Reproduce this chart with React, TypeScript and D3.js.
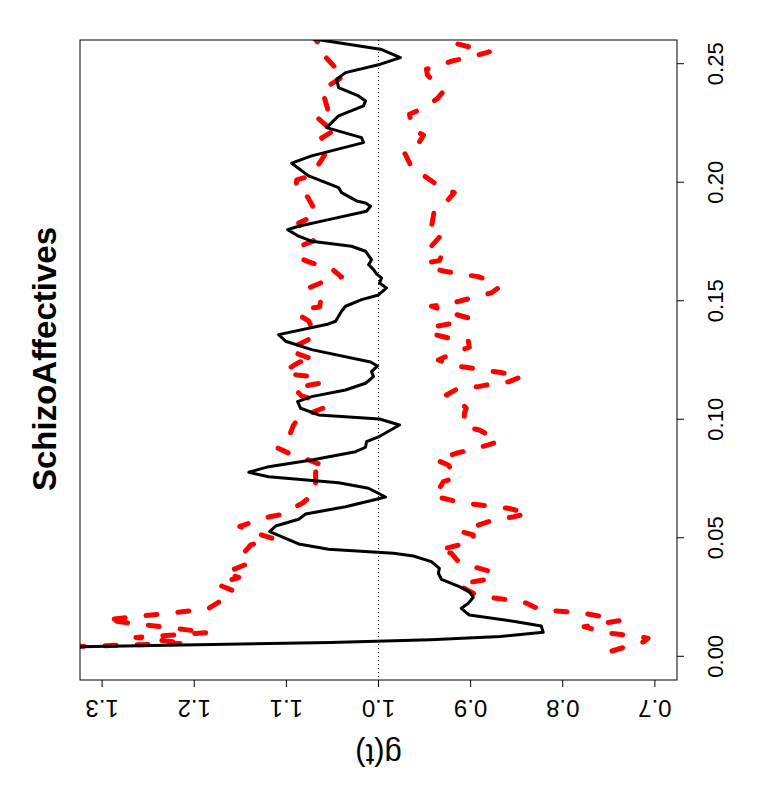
import React from "react";
import * as d3 from "d3";

// t (distance) and g(t) of the observed curve
const obsT = [0.00325,0.00578,0.00696,0.00835,0.01013,0.01278,0.0146,0.01743,0.0184,0.02025,0.02236,0.0249,0.02726,0.02937,0.03249,0.03502,0.03713,0.03992,0.04232,0.04346,0.04515,0.04738,0.05257,0.05498,0.0578,0.06004,0.06312,0.06595,0.06722,0.07089,0.07325,0.07578,0.07764,0.08,0.08283,0.08633,0.08819,0.09055,0.09253,0.0976,0.10013,0.10181,0.10464,0.10743,0.10954,0.11236,0.11519,0.11797,0.12008,0.12249,0.12418,0.12937,0.13291,0.1357,0.14021,0.14135,0.14557,0.14768,0.15046,0.15245,0.1554,0.15751,0.15962,0.16131,0.16312,0.16523,0.16734,0.17089,0.173,0.17511,0.17722,0.18,0.18143,0.18422,0.18776,0.18987,0.19127,0.19211,0.19561,0.19772,0.20266,0.20802,0.2111,0.21671,0.21882,0.22304,0.22515,0.22797,0.23219,0.2343,0.23641,0.23992,0.24346,0.24624,0.24979,0.25257,0.25612,0.26034,0.26215];
const obsG = [1.450,1.052,0.9437,0.8678,0.8212,0.8234,0.8505,0.9014,0.9047,0.9101,0.9025,0.8971,0.9014,0.9122,0.9317,0.935,0.9339,0.9426,0.9621,0.9837,1.0542,1.0867,1.1181,1.1116,1.0867,1.0791,1.0358,1.0054,0.9924,1.0108,1.0433,1.1192,1.1408,1.1192,1.0726,1.0249,1.0141,1.013,1.0,0.9772,0.9989,1.065,1.0845,1.0878,1.0726,1.0358,1.0141,1.0054,1.0076,1.0011,1.0087,1.0726,1.1008,1.1083,1.0542,1.0466,1.0401,1.0358,1.0184,1.0,0.9913,0.9989,0.9967,1.0022,1.0054,1.0108,1.0076,1.0141,1.0293,1.0726,1.0867,1.0986,1.0867,1.0542,1.013,1.0087,1.0141,1.0238,1.0401,1.0433,1.0758,1.0943,1.0726,1.0163,1.0184,1.0563,1.0509,1.0433,1.0163,1.0141,1.0217,1.0433,1.0455,1.0358,0.9978,0.9762,0.9978,1.0683,1.0953];

// lower envelope
const loT = [0.00224,0.00405,0.00616,0.0076,0.00827,0.00928,0.00996,0.01249,0.0135,0.01502,0.01646,0.01797,0.01857,0.01924,0.01983,0.02304,0.02376,0.02489,0.02586,0.03008,0.03148,0.03249,0.03527,0.03781,0.03992,0.04346,0.04485,0.04696,0.04835,0.05118,0.05257,0.05612,0.05751,0.0589,0.06034,0.06245,0.06312,0.06414,0.06481,0.06667,0.06734,0.06878,0.07367,0.07553,0.08072,0.08283,0.08565,0.08705,0.08916,0.09055,0.09156,0.09549,0.09688,0.10253,0.10464,0.10675,0.11025,0.11308,0.11376,0.11489,0.11586,0.11797,0.11983,0.12051,0.12194,0.12249,0.12502,0.12755,0.13038,0.13291,0.13316,0.13502,0.13641,0.13924,0.14021,0.14274,0.14443,0.14768,0.1481,0.14979,0.15118,0.15329,0.1554,0.15751,0.16017,0.16101,0.16245,0.16384,0.16595,0.16692,0.17089,0.173,0.17819,0.18072,0.18844,0.19127,0.19561,0.19705,0.20236,0.20477,0.21249,0.21418,0.21983,0.22236,0.22869,0.23105,0.23527,0.23781,0.23992,0.24515,0.24768,0.24835,0.25118,0.25232,0.25498,0.25612,0.25823,0.25962,0.26131];
const loG = [0.7465,0.7313,0.7118,0.7075,0.7183,0.7389,0.753,0.7768,0.7616,0.7389,0.753,0.7746,0.7887,0.8104,0.8256,0.8429,0.8581,0.8797,0.8938,0.9133,0.8971,0.8808,0.8743,0.8971,0.9133,0.9209,0.935,0.9122,0.8971,0.8971,0.9101,0.8862,0.8743,0.8527,0.8375,0.8592,0.8743,0.896,0.9101,0.9296,0.9404,0.9372,0.9296,0.9155,0.9242,0.9372,0.9155,0.9014,0.8808,0.87,0.8722,0.8906,0.9068,0.9068,0.9047,0.9101,0.9263,0.9133,0.8917,0.8776,0.8581,0.8451,0.8689,0.883,0.9047,0.9187,0.935,0.9209,0.9014,0.9025,0.9122,0.9317,0.9458,0.9372,0.9231,0.9025,0.9177,0.9426,0.9339,0.9122,0.8992,0.8776,0.87,0.8732,0.8917,0.9068,0.9285,0.9426,0.948,0.9339,0.9296,0.9426,0.9307,0.9426,0.9393,0.9274,0.9177,0.9296,0.9491,0.9621,0.9718,0.9599,0.9512,0.9632,0.9664,0.9523,0.9361,0.9307,0.9317,0.9469,0.948,0.9404,0.9198,0.9057,0.8797,0.8917,0.9133,0.9263,0.9328];

// upper envelope
const hiT = [0.00371,0.00549,0.00793,0.01004,0.01532,0.01996,0.02544,0.02755,0.03051,0.03325,0.03515,0.03958,0.04359,0.04696,0.0497,0.0516,0.05477,0.05646,0.05878,0.05983,0.06468,0.06932,0.07776,0.07987,0.08283,0.0843,0.08789,0.09127,0.0976,0.10055,0.10477,0.1073,0.10983,0.11321,0.11532,0.11785,0.11869,0.12017,0.12418,0.12502,0.12713,0.12945,0.13219,0.13515,0.14148,0.14401,0.14696,0.14738,0.14992,0.1554,0.15751,0.16004,0.16384,0.16595,0.16806,0.17312,0.17523,0.17945,0.18283,0.1862,0.18916,0.1938,0.19633,0.20097,0.20266,0.20941,0.21152,0.21236,0.21616,0.21869,0.22291,0.22376,0.22797,0.22966,0.23684,0.23852,0.23937,0.24527,0.24823,0.25371,0.2554,0.25751,0.26173];
const hiG = [1.3662,1.208,1.2633,1.1842,1.2969,1.1853,1.1625,1.1571,1.1755,1.1517,1.1668,1.1387,1.1463,1.1387,1.1148,1.13,1.1506,1.1376,1.1192,1.1051,1.0823,1.0683,1.0683,1.0563,1.0758,1.0899,1.1094,1.0986,1.0921,1.0867,1.0596,1.0628,1.0834,1.0921,1.0618,1.0672,1.0888,1.1029,1.0856,1.0693,1.0845,1.0975,1.0834,1.0683,1.0758,1.0867,1.0726,1.0639,1.0628,1.0758,1.0628,1.0401,1.052,1.0726,1.0867,1.0845,1.0704,1.0834,1.0867,1.0672,1.0704,1.0769,1.0899,1.0888,1.0737,1.0618,1.0585,1.0618,1.0563,1.0618,1.0433,1.0563,1.0683,1.0542,1.0596,1.0563,1.0596,1.0358,1.0466,1.0596,1.0574,1.0628,1.0715];

const gTicks = [1.3, 1.2, 1.1, 1.0, 0.9, 0.8, 0.7];
const tTicks = [0.0, 0.05, 0.1, 0.15, 0.2, 0.25];
const title = "SchizoAffectives";
const gLabel = "g(t)";

const FONT = "'Liberation Sans', Arial, Helvetica, sans-serif";

export default function App() {
  const left = 80, right = 677, top = 40, bottom = 680;
  const gScale = d3.scaleLinear().domain([1.324, 0.676]).range([left, right]);
  const tScale = d3.scaleLinear().domain([-0.01, 0.26]).range([bottom, top]);

  const line = d3
    .line<[number, number]>()
    .x((d) => gScale(d[1]))
    .y((d) => tScale(d[0]));

  const obs = obsT.map((t, i) => [t, obsG[i]] as [number, number]);
  const lo = loT.map((t, i) => [t, loG[i]] as [number, number]);
  const hi = hiT.map((t, i) => [t, hiG[i]] as [number, number]);

  return (
    <svg
      width={777}
      height={800}
      style={{ position: "absolute", left: 0, top: 0, background: "#fff" }}
      fontFamily={FONT}
    >
      <rect x={0} y={0} width={777} height={800} fill="#fff" />
      <defs>
        <clipPath id="plotclip">
          <rect x={left} y={top} width={right - left} height={bottom - top} />
        </clipPath>
      </defs>
      <g clipPath="url(#plotclip)">
        <line
          x1={gScale(1)}
          x2={gScale(1)}
          y1={top}
          y2={bottom}
          stroke="#000"
          strokeWidth={1}
          strokeDasharray="1,3"
        />
        <path
          d={line(hi) || ""}
          fill="none"
          stroke="#ff0000"
          strokeWidth={5}
          strokeDasharray="11,21"
          strokeLinecap="round"
          strokeLinejoin="round"
        />
        <path
          d={line(lo) || ""}
          fill="none"
          stroke="#ff0000"
          strokeWidth={5}
          strokeDasharray="11,21"
          strokeLinecap="round"
          strokeLinejoin="round"
        />
        <path
          d={line(obs) || ""}
          fill="none"
          stroke="#000"
          strokeWidth={3}
          strokeLinejoin="round"
          strokeLinecap="round"
        />
      </g>
      <rect
        x={left}
        y={top}
        width={right - left}
        height={bottom - top}
        fill="none"
        stroke="#000"
        strokeWidth={1}
      />
      {/* bottom axis: g(t), labels upside down */}
      {gTicks.map((v) => (
        <g key={"g" + v}>
          <line x1={gScale(v)} x2={gScale(v)} y1={bottom} y2={bottom + 7} stroke="#000" />
          <text
            x={gScale(v)}
            y={700}
            fontSize={24}
            textAnchor="middle"
            transform={`rotate(180, ${gScale(v)}, 700)`}
          >
            {v.toFixed(1)}
          </text>
        </g>
      ))}
      <text
        x={gScale(1)}
        y={744}
        fontSize={31}
        textAnchor="middle"
        transform={`rotate(180, ${gScale(1)}, 744)`}
      >
        {gLabel}
      </text>
      {/* right axis: t */}
      {tTicks.map((v) => (
        <g key={"t" + v}>
          <line x1={right} x2={right + 7} y1={tScale(v)} y2={tScale(v)} stroke="#000" />
          <text
            x={723}
            y={tScale(v)}
            fontSize={22}
            textAnchor="middle"
            transform={`rotate(-90, 723, ${tScale(v)})`}
          >
            {v.toFixed(2)}
          </text>
        </g>
      ))}
      <text
        x={56}
        y={359}
        fontSize={33}
        fontWeight="bold"
        textAnchor="middle"
        transform="rotate(-90, 56, 359)"
      >
        {title}
      </text>
    </svg>
  );
}
